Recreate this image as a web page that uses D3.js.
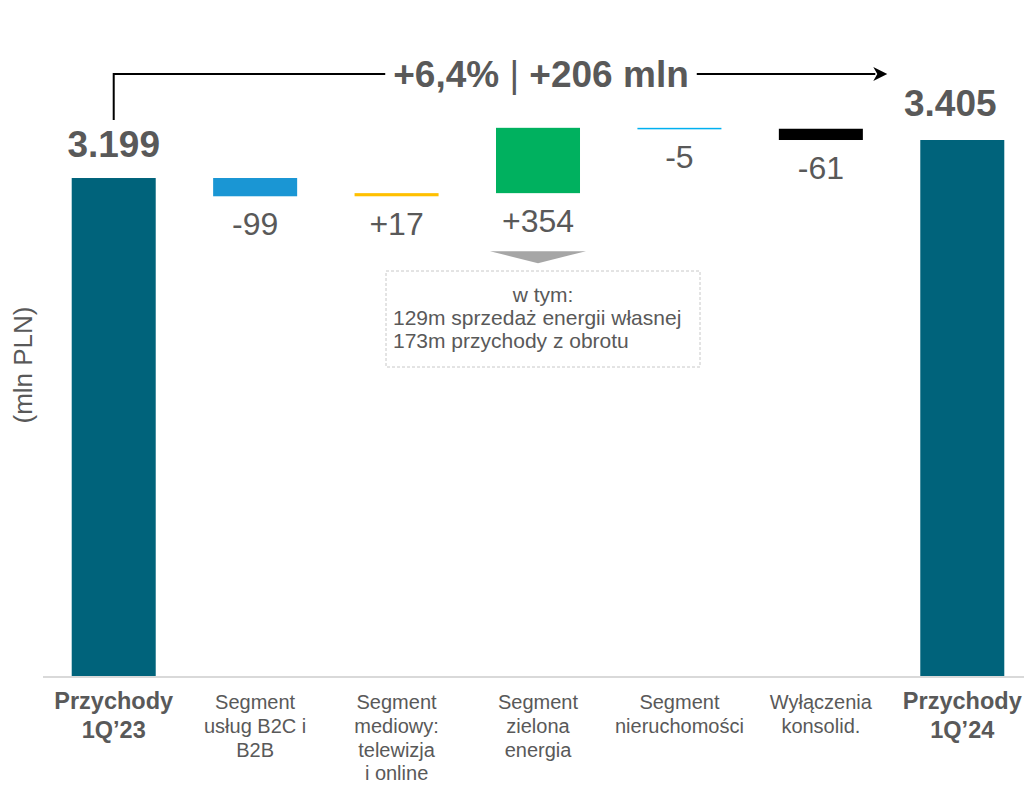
<!DOCTYPE html>
<html lang="pl">
<head>
  <meta charset="UTF-8">
  <title>Przychody 1Q'23 - 1Q'24</title>
  <script src="https://d3js.org/d3.v7.min.js"></script>
  <style>
    body {
      margin: 0;
      font-family: "Liberation Sans", Arial, sans-serif;
      background: #fff;
    }
  </style>
</head>
<body>

<svg width="1024" height="785"></svg>

<script>

  const categories = [
    ["Przychody", "1Q’23"],
    ["Segment", "usług B2C i", "B2B"],
    ["Segment", "mediowy:", "telewizja", "i online"],
    ["Segment", "zielona", "energia"],
    ["Segment", "nieruchomości"],
    ["Wyłączenia", "konsolid."],
    ["Przychody", "1Q’24"]
  ];
  const kinds = ["total", "delta", "delta", "delta", "delta", "delta", "total"];
  const values = [3199, -99, 17, 354, -5, -61, 3405];
  const colors = ["#00637b", "#1a96d4", "#ffc000", "#00b15f", "#00b0f0", "#000000", "#00637b"];
  const callout = ["w tym:", "129m sprzedaż energii własnej", "173m przychody z obrotu"];
  const headline = ["+6,4%", "|", "+206 mln"];

  const svg = d3.select("svg");
  const width = +svg.attr("width");
  const height = +svg.attr("height");
  const textColor = "#595959";

  // running totals for the waterfall
  let run = 0;
  const bars = values.map((v, i) => {
    let lo, hi;
    if (kinds[i] === "total") { lo = 500; hi = v; run = v; }
    else { const start = run; run += v; lo = Math.min(start, run); hi = Math.max(start, run); }
    return { i, v, lo, hi, kind: kinds[i], color: colors[i] };
  });

  const x = d3.scaleBand()
    .domain(d3.range(values.length))
    .range([43, 1033])
    .paddingInner(0.406)
    .paddingOuter(0.203);

  // value axis does not start at zero (as in the original slide)
  const y = d3.scaleLinear()
    .domain([500, 3947])
    .range([676, 40]);

  // baseline
  svg.append("line")
    .attr("x1", 43).attr("x2", width)
    .attr("y1", y(500) + 1).attr("y2", y(500) + 1)
    .attr("stroke", "#d9d9d9").attr("stroke-width", 2);

  svg.selectAll(".bar")
    .data(bars)
    .enter()
    .append("rect")
    .attr("class", "bar")
    .attr("x", d => x(d.i))
    .attr("width", x.bandwidth())
    .attr("y", d => y(d.hi))
    .attr("height", d => Math.max(1.5, y(d.lo) - y(d.hi)))
    .attr("fill", d => d.color);

  // delta labels below each floating bar
  svg.selectAll(".delta")
    .data(bars.filter(d => d.kind === "delta"))
    .enter()
    .append("text")
    .attr("class", "delta")
    .attr("x", d => x(d.i) + x.bandwidth() / 2)
    .attr("y", d => y(d.lo) + 39)
    .attr("text-anchor", "middle")
    .attr("fill", textColor)
    .style("font-size", "32px")
    .text(d => (d.v > 0 ? "+" : "") + d.v);

  // total labels
  const fmt = v => d3.format(",")(v).replace(",", ".");
  svg.selectAll(".total")
    .data(bars.filter(d => d.kind === "total"))
    .enter()
    .append("text")
    .attr("class", "total")
    .attr("x", d => x(d.i) + x.bandwidth() / 2 + (d.i === 0 ? 0 : -12))
    .attr("y", d => y(d.hi) - (d.i === 0 ? 21 : 24))
    .attr("text-anchor", "middle")
    .attr("fill", textColor)
    .style("font-size", "37px")
    .style("font-weight", "bold")
    .text(d => fmt(d.v));

  // category labels
  svg.selectAll(".cat")
    .data(categories)
    .enter()
    .append("text")
    .attr("class", "cat")
    .attr("x", (d, i) => x(i) + x.bandwidth() / 2)
    .attr("y", 709)
    .attr("text-anchor", "middle")
    .attr("fill", textColor)
    .style("font-size", (d, i) => kinds[i] === "total" ? "23.5px" : "20px")
    .style("font-weight", (d, i) => kinds[i] === "total" ? "bold" : "normal")
    .each(function(d, i) {
      const lh = kinds[i] === "total" ? 29 : 23.8;
      d3.select(this).selectAll("tspan")
        .data(d)
        .enter()
        .append("tspan")
        .attr("x", x(i) + x.bandwidth() / 2)
        .attr("dy", (t, j) => j === 0 ? 0 : lh)
        .text(t => t);
    });

  // y axis title
  svg.append("text")
    .attr("transform", "translate(32,365) rotate(-90)")
    .attr("text-anchor", "middle")
    .attr("fill", textColor)
    .style("font-size", "26px")
    .text("(mln PLN)");

  // growth arrow from first total to last total
  const ax0 = x(0) + x.bandwidth() / 2;
  const ax1 = x(6) - 33;
  const ay = 74;
  svg.append("path")
    .attr("d", `M${ax0},${y(bars[0].hi) - 58}V${ay}H${ax1 - 12}`)
    .attr("fill", "none")
    .attr("stroke", "#000")
    .attr("stroke-width", 2);
  svg.append("path")
    .attr("d", `M${ax1 - 14},${ay - 7}L${ax1},${ay}L${ax1 - 14},${ay + 7}L${ax1 - 10},${ay}Z`)
    .attr("fill", "#000");

  const head = svg.append("text")
    .attr("x", 541)
    .attr("y", 87)
    .attr("text-anchor", "middle")
    .attr("fill", textColor)
    .style("font-size", "37px");
  head.append("tspan").style("font-weight", "bold").text(headline[0]);
  head.append("tspan").style("font-weight", "normal").text(" " + headline[1] + " ");
  head.append("tspan").style("font-weight", "bold").text(headline[2]);
  const hb = head.node().getBBox();
  svg.insert("rect", () => head.node())
    .attr("x", hb.x - 8).attr("y", hb.y)
    .attr("width", hb.width + 16).attr("height", hb.height)
    .attr("fill", "#fff");

  // callout for green segment
  const cx = x(3) + x.bandwidth() / 2;
  const triTop = y(bars[3].lo) + 58;
  svg.append("path")
    .attr("d", `M${cx - 48},${triTop}L${cx + 48},${triTop}L${cx},${triTop + 12}Z`)
    .attr("fill", "#a6a6a6");

  svg.append("rect")
    .attr("x", 386).attr("y", 271)
    .attr("width", 314).attr("height", 96)
    .attr("fill", "#fff")
    .attr("stroke", "#c8c8c8")
    .attr("stroke-dasharray", "3,2");

  svg.selectAll(".note")
    .data(callout)
    .enter()
    .append("text")
    .attr("class", "note")
    .attr("x", (d, i) => i === 0 ? 543 : 393)
    .attr("y", (d, i) => 302 + i * 23)
    .attr("text-anchor", (d, i) => i === 0 ? "middle" : "start")
    .attr("fill", textColor)
    .style("font-size", "21px")
    .text(d => d);

</script>

</body>
</html>
